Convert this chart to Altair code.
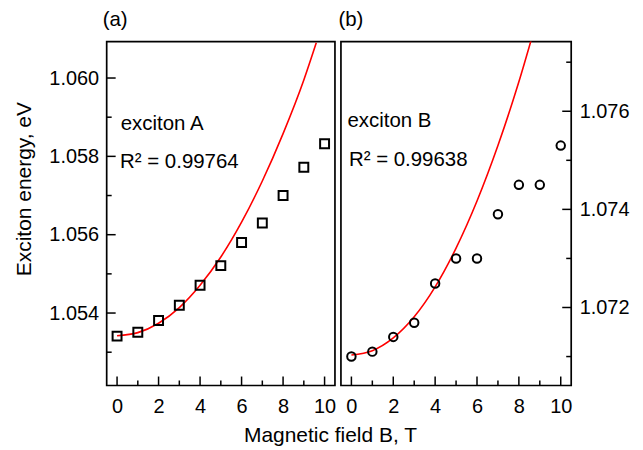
import altair as alt
import pandas as pd

# ---- data ----
field_T = [0, 1, 2, 3, 4, 5, 6, 7, 8, 9, 10]
energy_A = [1.05341, 1.05351, 1.05381, 1.05420, 1.05471, 1.05521,
            1.05580, 1.05630, 1.05700, 1.05772, 1.05832]
energy_B = [1.07100, 1.07110, 1.07140, 1.07169, 1.07249, 1.07300,
            1.07300, 1.07390, 1.07450, 1.07450, 1.07530]

fit_A_field = [0, 1, 2, 3, 4, 5, 6, 7, 8, 9, 9.6]
fit_A_energy = [1.05342, 1.05350, 1.05374, 1.05414, 1.05471, 1.05543,
                1.05632, 1.05737, 1.05858, 1.05995, 1.06090]
fit_B_field = [0, 1, 2, 3, 4, 5, 6, 7, 8, 8.62]
fit_B_energy = [1.07103, 1.07112, 1.07138, 1.07181, 1.07242, 1.07321,
                1.07417, 1.07530, 1.07660, 1.07750]

x_major = [0, 2, 4, 6, 8, 10]
x_minor = [1, 3, 5, 7, 9]
yA_major = [1.054, 1.056, 1.058, 1.060]
yA_minor = [1.053, 1.055, 1.057, 1.059]
yB_major = [1.072, 1.074, 1.076]
yB_minor = [1.071, 1.073, 1.075, 1.077]

labels_A = ["exciton A", "R\u00b2 = 0.99764"]
labels_B = ["exciton B", "R\u00b2 = 0.99638"]

FONT = "Liberation Sans"
H = 345


def panel(energy, fit_x, fit_y, shape, msize, ydom, ymaj, ymin, side, labels,
          tag, W, x_title, text_pos, tag_dx):
    xs = alt.Scale(domain=[-0.5, 10.5], nice=False, zero=False)
    ys = alt.Scale(domain=ydom, nice=False, zero=False)

    if x_title:
        xaxis = alt.Axis(values=x_major, format="d", ticks=False, tickSize=0,
                         domain=False, grid=False, labelPadding=11,
                         labelFontSize=20, title=x_title, titleFontSize=21,
                         titleX=224, titleY=50.5, titleAlign="center",
                         titleBaseline="middle")
    else:
        xaxis = alt.Axis(values=x_major, format="d", ticks=False, tickSize=0,
                         domain=False, grid=False, labelPadding=11,
                         labelFontSize=20, title="")
    if side == "left":
        yaxis = alt.Axis(orient="left", values=ymaj, format=".3f", ticks=False,
                         tickSize=0, domain=False, grid=False, labelPadding=8,
                         labelFontSize=20, title="Exciton energy, eV",
                         titleFontSize=21, titleX=-82, titleY=147.5,
                         titleAngle=270, titleAlign="center",
                         titleBaseline="middle")
    else:
        yaxis = alt.Axis(orient="right", values=ymaj, format=".3f", ticks=False,
                         tickSize=0, domain=False, grid=False, labelPadding=8,
                         labelFontSize=20, title="")

    pts = pd.DataFrame({"B": field_T, "E": energy})
    fit = pd.DataFrame({"B": fit_x, "E": fit_y})

    def X(f):
        return alt.X(f, scale=xs, axis=xaxis)

    def Y(f):
        return alt.Y(f, scale=ys, axis=yaxis)

    points = alt.Chart(pts).mark_point(
        shape=shape, filled=False, color="black", size=msize, strokeWidth=2,
        opacity=1
    ).encode(x=X("B:Q"), y=Y("E:Q"))

    line = alt.Chart(fit).mark_line(
        color="#ff0000", strokeWidth=1.6, interpolate="monotone", clip=True
    ).encode(x=X("B:Q"), y=Y("E:Q"))

    layers = [line, points]

    # inward tick marks
    if side == "left":
        x0 = 0
        sgn = 1
    else:
        x0 = W
        sgn = -1
    for vals, L in ((ymaj, 9), (ymin, 5)):
        layers.append(
            alt.Chart(pd.DataFrame({"E": vals})).mark_rule(
                color="black", strokeWidth=1.5
            ).encode(y=Y("E:Q"), x=alt.value(x0), x2=alt.value(x0 + sgn * L))
        )
    for vals, L in ((x_major, 9), (x_minor, 5)):
        layers.append(
            alt.Chart(pd.DataFrame({"B": vals})).mark_rule(
                color="black", strokeWidth=1.5
            ).encode(x=X("B:Q"), y=alt.value(H), y2=alt.value(H - L))
        )

    for lab, (tx, ty) in zip(labels, text_pos):
        layers.append(
            alt.Chart(pd.DataFrame({"t": [lab]})).mark_text(
                align="left", baseline="alphabetic", font=FONT, fontSize=20.5,
                color="black"
            ).encode(text="t:N", x=alt.value(tx), y=alt.value(ty))
        )

    return alt.layer(*layers).properties(
        width=W, height=H,
        title=alt.TitleParams(tag, anchor="start", frame="group", offset=11,
                              dx=tag_dx, fontSize=20.5, fontWeight="normal",
                              font=FONT, color="black"),
    )


left = panel(energy_A, fit_A_field, fit_A_energy, "square", 80,
             [1.05215, 1.06093], yA_major, yA_minor, "left", labels_A,
             "(a)", 229, "Magnetic field B, T", [(14, 88.2), (13.4, 127.2)], -4)
right = panel(energy_B, fit_B_field, fit_B_energy, "circle", 72,
              [1.07041, 1.07742], yB_major, yB_minor, "right", labels_B,
              "(b)", 231, "", [(6.5, 85.5), (8, 124.5)], -2.5)

chart = alt.hconcat(left, right, spacing=6, bounds="flush").configure_view(
    stroke="black", strokeWidth=1.7
).configure_axis(
    labelFont=FONT, titleFont=FONT, labelColor="black", titleColor="black",
    titleFontWeight="normal"
).properties(background="white",
             padding={"left": 5, "top": 0, "right": 5, "bottom": 0})

chart.save("out.html", embed_options={"renderer": "svg", "actions": False})
